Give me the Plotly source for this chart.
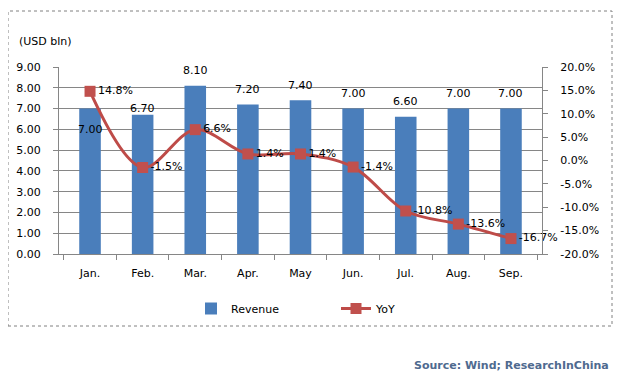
import plotly.graph_objects as go

months = ["Jan.", "Feb.", "Mar.", "Apr.", "May", "Jun.", "Jul.", "Aug.", "Sep."]
revenue = [7.00, 6.70, 8.10, 7.20, 7.40, 7.00, 6.60, 7.00, 7.00]
yoy = [14.8, -1.5, 6.6, 1.4, 1.4, -1.4, -10.8, -13.6, -16.7]
left_ticks = [0, 1, 2, 3, 4, 5, 6, 7, 8, 9]
right_ticks = [-20, -15, -10, -5, 0, 5, 10, 15, 20]
right_tick_labels = ["-20.0%", "-15.0%", "-10.0%", "-5.0%", "0.0%", "5.0%", "10.0%", "15.0%", "20.0%"]

FONT = "DejaVu Sans"
OFF = 8  # page body margin in the browser
W, H = 623 - OFF, 372 - OFF
# plot area in screen pixels
L, R, T, B = 59, 542, 67, 254

# vertical offsets (px) of the revenue value labels from the bar tops
label_shift = [-21, 6, 15, 15, 15, 15, 15, 15, 15]

fig = go.Figure()
fig.add_trace(go.Bar(
    x=months, y=revenue, name="Revenue",
    marker=dict(color="#4A7EBB", line=dict(width=0)),
    width=0.41,
))
fig.add_trace(go.Scatter(
    x=months, y=yoy, name="YoY", yaxis="y2",
    mode="lines+markers+text",
    line=dict(color="#BE4B48", width=3, shape="spline", smoothing=1),
    marker=dict(symbol="square", size=11, color="#C0504D"),
    text=[f"{v:.1f}%" for v in yoy],
    textposition="middle right",
    textfont=dict(family=FONT, size=11, color="#000000"),
    cliponaxis=False,
))

def px_x(p):
    return (p - L) / (R - L)

def px_y(p):
    return (B - p) / (B - T)

annotations = [
    dict(x=m, y=v, xref="x", yref="y", text=f"{v:.2f}", showarrow=False,
         yshift=s, yanchor="middle", xanchor="center",
         font=dict(family=FONT, size=11, color="#000000"))
    for m, v, s in zip(months, revenue, label_shift)
]
annotations += [
    dict(text="(USD bln)", xref="paper", yref="paper", x=px_x(17), y=px_y(41),
         xanchor="left", yanchor="middle", showarrow=False,
         font=dict(family=FONT, size=11, color="#000000")),
    dict(text="<b>Source: Wind; ResearchInChina</b>", xref="paper", yref="paper",
         x=px_x(611), y=px_y(365), xanchor="right", yanchor="middle", showarrow=False,
         font=dict(family=FONT, size=11, color="#4F6A8F")),
]

fig.update_layout(
    width=W, height=H,
    margin=dict(l=L - OFF, r=W - (R - OFF), t=T - OFF, b=H - (B - OFF), pad=0, autoexpand=False),
    paper_bgcolor="white", plot_bgcolor="white",
    font=dict(family=FONT, size=11, color="#000000"),
    showlegend=True,
    legend=dict(orientation="h", x=px_x(191), y=px_y(294), xanchor="left", yanchor="top",
                entrywidth=100, font=dict(family=FONT, size=11), bgcolor="rgba(0,0,0,0)"),
    xaxis=dict(
        type="category", showgrid=False, showline=True, linecolor="#868686", linewidth=1,
        ticks="outside", tickson="boundaries", ticklen=5, tickcolor="#868686",
        ticklabelstandoff=9, tickfont=dict(family=FONT, size=11), automargin=False,
    ),
    yaxis=dict(
        range=[0, 9], tickvals=left_ticks, tickformat=".2f",
        showgrid=True, gridcolor="#868686", gridwidth=1,
        showline=True, linecolor="#868686", linewidth=1,
        ticks="outside", ticklen=5, tickcolor="#868686", ticklabelstandoff=10,
        zeroline=False, tickfont=dict(family=FONT, size=11), automargin=False,
    ),
    yaxis2=dict(
        range=[-20, 20], tickvals=right_ticks, ticktext=right_tick_labels,
        overlaying="y", side="right", showgrid=False,
        showline=True, linecolor="#868686", linewidth=1,
        ticks="outside", ticklen=5, tickcolor="#868686", ticklabelstandoff=10,
        zeroline=False, tickfont=dict(family=FONT, size=11), automargin=False,
    ),
    shapes=[dict(
        type="rect", xref="paper", yref="paper",
        x0=px_x(8), x1=px_x(612), y0=px_y(326), y1=px_y(11),
        line=dict(color="#808080", width=1, dash="dot"), fillcolor="rgba(0,0,0,0)", layer="below",
    )],
    annotations=annotations,
)

fig.write_html("out.html")
